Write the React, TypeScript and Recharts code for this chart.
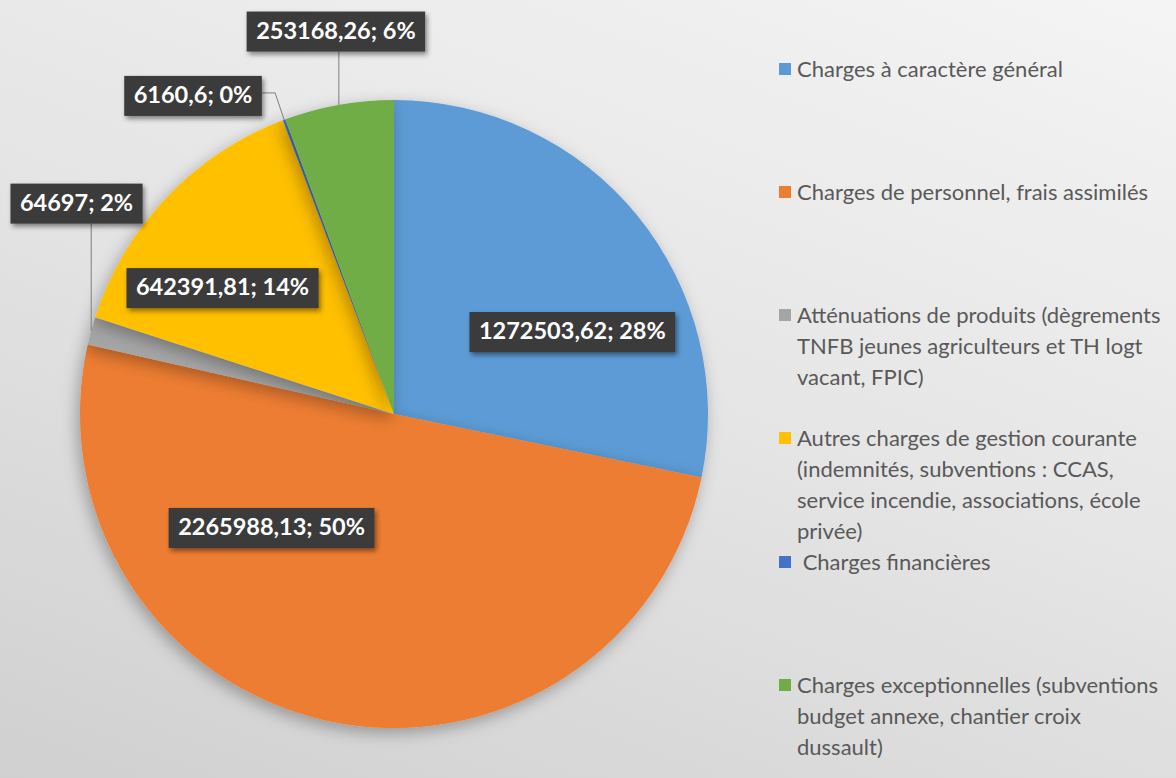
import { PieChart, Pie, Cell, Legend } from "recharts";

const categories = [
  "Charges à caractère général",
  "Charges de personnel, frais assimilés",
  "Atténuations de produits (dègrements TNFB jeunes agriculteurs et TH logt vacant, FPIC)",
  "Autres charges de gestion courante (indemnités, subventions : CCAS, service incendie, associations, école privée)",
  " Charges financières",
  "Charges exceptionnelles (subventions budget annexe, chantier croix dussault)",
];
const values = [1272503.62, 2265988.13, 64697, 642391.81, 6160.6, 253168.26];
const colors = ["#5B9BD5", "#ED7D31", "#A5A5A5", "#FFC000", "#4472C4", "#70AD47"];

// where each label box sits, in radius units from the pie centre (Excel placed them by hand)
const labelSpots = [
  [0.568, -0.261],
  [-0.39, 0.363],
  [-1.011, -0.67],
  [-0.546, -0.401],
  [-0.64, -1.013],
  [-0.185, -1.218],
];

const data = categories.map((name, i) => ({ name, value: values[i] }));

// Excel rounds the shares so that they add up to 100 (largest remainder)
const total = values.reduce((a, b) => a + b, 0);
const shares = (() => {
  const raw = values.map((v) => (v / total) * 100);
  const out = raw.map(Math.floor);
  let left = 100 - out.reduce((a, b) => a + b, 0);
  const order = raw.map((r, i) => [r - Math.floor(r), i]).sort((a, b) => b[0] - a[0]);
  for (let k = 0; k < left; k++) out[order[k][1]] += 1;
  return out;
})();

const LABEL_FONT = "bold 23.5px Lato";
const RAD = Math.PI / 180;

let ctx: CanvasRenderingContext2D | null = null;
function textWidth(s: string) {
  if (!ctx) ctx = document.createElement("canvas").getContext("2d");
  if (!ctx) return s.length * 12;
  ctx.font = LABEL_FONT;
  return ctx.measureText(s).width;
}

const fmt = (v: number) => String(v).replace(".", ",");

function renderLabel(p: any) {
  const { cx, cy, midAngle, outerRadius, index, value } = p;
  const text = `${fmt(value)}; ${shares[index]}%`;
  const [fx, fy] = labelSpots[index];
  const bx = cx + fx * outerRadius;
  const by = cy + fy * outerRadius;
  const w = textWidth(text) + 19;
  const h = 40;
  const left = bx - w / 2;
  const top = by - h / 2;

  let line = null;
  if (fx * fx + fy * fy > 1) {
    const ex = cx + outerRadius * Math.cos(-midAngle * RAD);
    const ey = cy + outerRadius * Math.sin(-midAngle * RAD);
    let pts: string;
    if (ex >= left && ex <= left + w) {
      pts = `${ex},${ey} ${ex},${top + h}`;
    } else {
      pts = `${ex},${ey} ${ex - 9},${by - 3} ${left + w},${by - 3}`;
    }
    line = <polyline points={pts} fill="none" stroke="#7f7f7f" strokeWidth={1} />;
  }

  return (
    <g key={`lbl-${index}`}>
      {line}
      <rect x={left} y={top} width={w} height={h} fill="#3a3a3a" filter="url(#boxShadow)" />
      <text
        x={bx}
        y={by + 1}
        textAnchor="middle"
        dominantBaseline="middle"
        fill="#ffffff"
        style={{ font: LABEL_FONT }}
      >
        {text}
      </text>
    </g>
  );
}

function LegendList() {
  return (
    <div style={{ fontFamily: "Lato", fontSize: 22, color: "#595959", lineHeight: "31px" }}>
      {categories.map((c, i) => (
        <div key={c} style={{ display: "flex", minHeight: 123, alignItems: "flex-start" }}>
          <span
            style={{
              width: 12,
              height: 12,
              background: colors[i],
              marginTop: 10,
              marginRight: 6,
              flex: "none",
            }}
          />
          <span style={{ whiteSpace: "pre-wrap", width: 369 }}>{c}</span>
        </div>
      ))}
    </div>
  );
}

export default function App() {
  return (
    <div
      style={{
        position: "relative",
        width: 1176,
        height: 778,
        background: "linear-gradient(200deg, #f4f4f4 0%, #e6e6e6 45%, #d0d0d0 100%)",
        overflow: "hidden",
      }}
    >
      <style>{"body{margin:0}"}</style>
      <PieChart width={1176} height={778} margin={{ top: 0, right: 0, bottom: 0, left: 0 }}>
        <defs>
          <filter id="pieShadow" x="-20%" y="-20%" width="140%" height="140%">
            <feDropShadow dx={-3} dy={5} stdDeviation={8} floodColor="#000" floodOpacity={0.3} />
          </filter>
          <filter id="boxShadow" x="-20%" y="-30%" width="140%" height="170%">
            <feDropShadow dx={2} dy={3} stdDeviation={2.5} floodColor="#000" floodOpacity={0.45} />
          </filter>
        </defs>
        <Pie
          data={data}
          dataKey="value"
          nameKey="name"
          cx={394}
          cy={414}
          outerRadius={314}
          startAngle={90}
          endAngle={-270}
          stroke="none"
          label={renderLabel}
          labelLine={false}
          isAnimationActive={false}
          style={{ filter: "url(#pieShadow)" }}
        >
          {data.map((d, i) => (
            <Cell key={d.name} fill={colors[i]} />
          ))}
        </Pie>
        <Legend
          layout="vertical"
          align="right"
          verticalAlign="top"
          wrapperStyle={{ left: 779, top: 53, width: 400 }}
          content={() => <LegendList />}
        />
      </PieChart>
    </div>
  );
}
